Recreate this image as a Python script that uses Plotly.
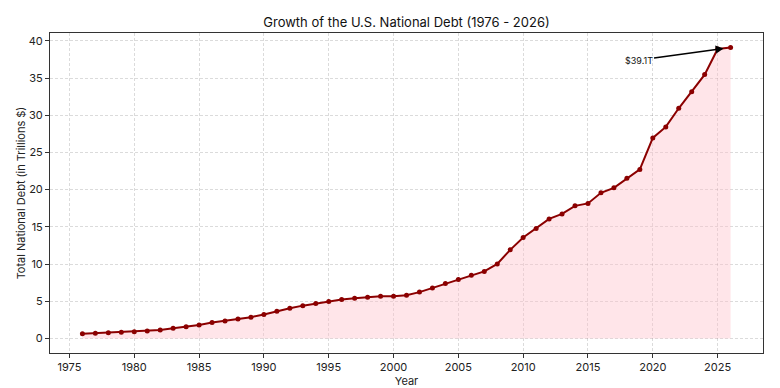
import plotly.graph_objects as go

years = list(range(1976, 2027))
debt = [0.62, 0.71, 0.78, 0.83, 0.91, 1.00, 1.14, 1.37, 1.56, 1.82,
        2.13, 2.35, 2.60, 2.86, 3.23, 3.67, 4.06, 4.41, 4.69, 4.97,
        5.22, 5.41, 5.53, 5.66, 5.67, 5.81, 6.23, 6.78, 7.38, 7.93,
        8.51, 9.01, 10.02, 11.91, 13.56, 14.79, 16.07, 16.74, 17.82, 18.15,
        19.57, 20.24, 21.52, 22.72, 26.95, 28.43, 30.93, 33.17, 35.46, 38.90,
        39.10]
x_ticks = [1975, 1980, 1985, 1990, 1995, 2000, 2005, 2010, 2015, 2020, 2025]
y_ticks = [0, 5, 10, 15, 20, 25, 30, 35, 40]
label_text = "$39.1T"

font = "Inter, Roboto, sans-serif"

fig = go.Figure()
fig.add_trace(go.Scatter(
    x=years, y=debt, mode="none", fill="tozeroy",
    fillcolor="rgba(255,192,203,0.42)", hoverinfo="skip", showlegend=False))
fig.add_trace(go.Scatter(
    x=years, y=debt, mode="lines+markers",
    line=dict(color="#8B0000", width=2),
    marker=dict(color="#8B0000", size=5),
    showlegend=False))

fig.add_annotation(
    x=years[-1], y=debt[-1], xref="x", yref="y",
    ax=2018.9, ay=37.4, axref="x", ayref="y",
    text=label_text, showarrow=True, arrowhead=2, arrowsize=1,
    arrowwidth=1.6, arrowcolor="black", standoff=7,
    font=dict(family=font, size=9, color="#111"))

axis_common = dict(
    showline=True, linecolor="#333", linewidth=1, mirror=True,
    ticks="outside", ticklen=4, tickcolor="#333", tickwidth=1,
    showgrid=True, gridcolor="rgba(0,0,0,0.14)", griddash="3px,2px", gridwidth=0.8,
    zeroline=False, tickfont=dict(family=font, size=11, color="#222"),
    automargin=False,
)

fig.update_layout(
    width=780, height=388,
    margin=dict(l=50, r=17, t=33, b=35),
    paper_bgcolor="white", plot_bgcolor="white",
    title=dict(text="Growth of the U.S. National Debt (1976 - 2026)",
               x=0.5, xanchor="center", xref="paper",
               y=1 - 22 / 388, yref="container", yanchor="middle",
               font=dict(family=font, size=13, color="#111")),
    xaxis=dict(range=[1973.5, 2028.5], tickvals=x_ticks,
               title=dict(text="Year", standoff=0, font=dict(family=font, size=11, color="#222")),
               **axis_common),
    yaxis=dict(range=[-1.955, 41.05], tickvals=y_ticks,
               title=dict(text="Total National Debt (in Trillions $)", standoff=0,
                          font=dict(family=font, size=11, color="#222")),
               **axis_common),
)

fig.write_html("out.html", config={"displayModeBar": False},
               post_script="document.body.style.margin='0';document.body.style.overflow='hidden';")
